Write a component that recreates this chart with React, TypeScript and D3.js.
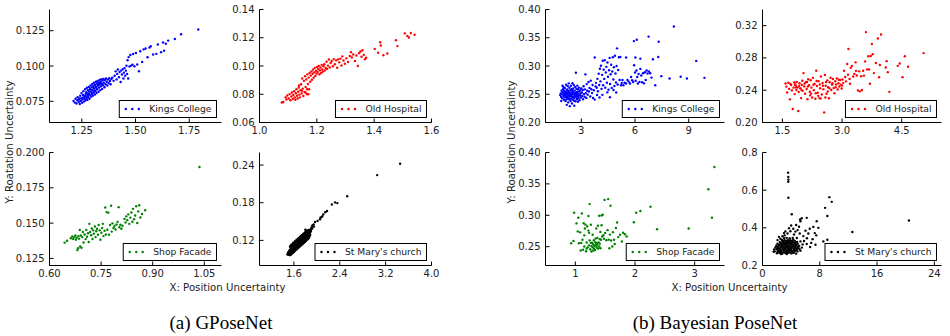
import React from 'react'
import * as d3 from 'd3'

type Pt = [number, number]

// ---- GPoseNet (a) ----
const gKings: Pt[] = [
  [1.212,0.0752],[1.218,0.0741],[1.221,0.0768],[1.226,0.0735],[1.229,0.0757],[1.231,0.0779],[1.236,0.0746],[1.238,0.0762],[1.241,0.0731],[1.243,0.0789],
  [1.246,0.0752],[1.248,0.0771],[1.249,0.0808],[1.252,0.0740],[1.254,0.0763],[1.256,0.0795],[1.258,0.0822],[1.261,0.0748],[1.262,0.0781],[1.264,0.0769],
  [1.266,0.0836],[1.268,0.0757],[1.269,0.0803],[1.271,0.0815],[1.273,0.0774],[1.274,0.0846],[1.276,0.0760],[1.278,0.0791],[1.279,0.0828],[1.281,0.0779],
  [1.283,0.0852],[1.284,0.0806],[1.286,0.0768],[1.288,0.0838],[1.289,0.0794],[1.291,0.0862],[1.292,0.0817],[1.294,0.0783],[1.296,0.0849],[1.297,0.0801],
  [1.299,0.0873],[1.301,0.0828],[1.302,0.0790],[1.304,0.0859],[1.306,0.0812],[1.307,0.0881],[1.309,0.0841],[1.311,0.0798],[1.312,0.0867],[1.314,0.0823],
  [1.316,0.0889],[1.317,0.0852],[1.319,0.0809],[1.321,0.0876],[1.322,0.0835],[1.324,0.0895],[1.326,0.0861],[1.328,0.0818],[1.329,0.0883],[1.331,0.0847],
  [1.333,0.0902],[1.334,0.0869],[1.336,0.0829],[1.338,0.0890],[1.339,0.0856],[1.341,0.0907],[1.343,0.0876],[1.345,0.0838],[1.347,0.0897],[1.349,0.0864],
  [1.351,0.0909],[1.353,0.0882],[1.356,0.0850],[1.358,0.0901],[1.361,0.0871],[1.363,0.0911],[1.366,0.0889],[1.369,0.0862],[1.372,0.0905],[1.375,0.0880],
  [1.378,0.0913],[1.381,0.0894],[1.384,0.0871],[1.388,0.0908],[1.392,0.0918],[1.398,0.0895],[1.403,0.0931],[1.408,0.0962],[1.412,0.0905],[1.415,0.0944],
  [1.418,0.0975],[1.423,0.0921],[1.426,0.0958],[1.431,0.0887],[1.434,0.0969],[1.437,0.0940],[1.441,0.0978],[1.444,0.0912],[1.446,0.0953],[1.449,0.0985],
  [1.452,0.0931],[1.455,0.0967],[1.458,0.1002],[1.461,0.0944],[1.463,0.1041],[1.466,0.0911],[1.468,0.1063],[1.472,0.0996],[1.476,0.1078],[1.480,0.1003],
  [1.486,0.1010],[1.489,0.1085],[1.495,0.0998],[1.502,0.1092],[1.508,0.1011],[1.516,0.0963],[1.522,0.1104],[1.531,0.1029],[1.538,0.1118],[1.547,0.1124],
  [1.556,0.1062],[1.565,0.1131],[1.571,0.1140],[1.582,0.1081],[1.597,0.1086],[1.604,0.1152],[1.619,0.1098],[1.628,0.1166],[1.633,0.1108],[1.641,0.1157],
  [1.652,0.1180],[1.683,0.1191],[1.712,0.1225],[1.792,0.1258],[1.255,0.0775],[1.265,0.0790],[1.275,0.0805],[1.285,0.0820],[1.295,0.0830],[1.305,0.0845],
  [1.315,0.0855],[1.325,0.0870],[1.335,0.0880],[1.345,0.0870],[1.300,0.0810],[1.310,0.0825],[1.320,0.0840],[1.280,0.0800],[1.270,0.0785],[1.240,0.0770],
]

const gHospital: Pt[] = [
  [1.078,0.0742],[1.083,0.0745],[1.091,0.0778],[1.094,0.0763],[1.097,0.0791],[1.102,0.0770],[1.105,0.0801],[1.108,0.0758],[1.111,0.0784],[1.113,0.0812],
  [1.116,0.0766],[1.118,0.0795],[1.121,0.0822],[1.123,0.0778],[1.125,0.0761],[1.127,0.0807],[1.129,0.0836],[1.131,0.0789],[1.133,0.0770],[1.135,0.0818],
  [1.137,0.0848],[1.139,0.0797],[1.141,0.0778],[1.143,0.0829],[1.145,0.0871],[1.147,0.0806],[1.149,0.0912],[1.151,0.0840],[1.153,0.0788],[1.155,0.0895],
  [1.157,0.0817],[1.159,0.0928],[1.161,0.0852],[1.163,0.0905],[1.165,0.0802],[1.167,0.0941],[1.169,0.0873],[1.171,0.0918],[1.173,0.0835],[1.175,0.0950],
  [1.177,0.0889],[1.179,0.0932],[1.181,0.0962],[1.183,0.0903],[1.185,0.0945],[1.187,0.0976],[1.189,0.0918],[1.191,0.0955],[1.193,0.0987],[1.195,0.0930],
  [1.197,0.0966],[1.199,0.0946],[1.201,0.0993],[1.203,0.0958],[1.205,0.0979],[1.207,0.1001],[1.209,0.0942],[1.211,0.0969],[1.213,0.0990],[1.215,0.0951],
  [1.217,0.1008],[1.219,0.0975],[1.221,0.0960],[1.223,0.0998],[1.226,0.1012],[1.228,0.0968],[1.231,0.0986],[1.234,0.1030],[1.236,0.0979],[1.239,0.1003],
  [1.242,0.1046],[1.245,0.0990],[1.248,0.1021],[1.252,0.1035],[1.256,0.0998],[1.259,0.1049],[1.263,0.1012],[1.267,0.1040],[1.271,0.0988],[1.274,0.1047],
  [1.278,0.1026],[1.282,0.1052],[1.286,0.1004],[1.289,0.1068],[1.293,0.1039],[1.298,0.1016],[1.303,0.1054],[1.309,0.1028],[1.315,0.1071],[1.319,0.1098],
  [1.322,0.1061],[1.327,0.1082],[1.333,0.1035],[1.338,0.1074],[1.343,0.1000],[1.347,0.1091],[1.352,0.1103],[1.356,0.1065],[1.359,0.1112],[1.364,0.1079],
  [1.368,0.1048],[1.372,0.1059],[1.402,0.1121],[1.414,0.1094],[1.421,0.1168],[1.423,0.1145],[1.432,0.1076],[1.446,0.1089],[1.476,0.1182],[1.481,0.1141],
  [1.507,0.1231],[1.516,0.1213],[1.521,0.1202],[1.528,0.1234],[1.541,0.1221],[1.138,0.0862],[1.148,0.0825],[1.160,0.0812],[1.166,0.0835],[1.170,0.0800],
]

const gShop: Pt[] = [
  [0.644,0.1362],[0.651,0.1375],[0.662,0.1393],[0.666,0.1405],[0.669,0.1388],[0.672,0.1401],[0.675,0.1412],[0.677,0.1383],[0.679,0.1397],[0.681,0.1309],
  [0.683,0.1322],[0.684,0.1408],[0.686,0.1390],[0.688,0.1451],[0.689,0.1335],[0.691,0.1412],[0.693,0.1326],[0.695,0.1401],[0.697,0.1438],[0.699,0.1363],
  [0.702,0.1420],[0.705,0.1387],[0.707,0.1452],[0.709,0.1404],[0.712,0.1428],[0.714,0.1366],[0.716,0.1495],[0.718,0.1437],[0.721,0.1414],[0.723,0.1462],
  [0.725,0.1388],[0.727,0.1449],[0.729,0.1425],[0.732,0.1476],[0.734,0.1401],[0.736,0.1443],[0.738,0.1460],[0.741,0.1418],[0.743,0.1487],[0.746,0.1449],
  [0.748,0.1382],[0.751,0.1432],[0.753,0.1466],[0.755,0.1495],[0.757,0.1408],[0.760,0.1446],[0.762,0.1611],[0.764,0.1420],[0.766,0.1578],[0.768,0.1453],
  [0.771,0.1574],[0.773,0.1418],[0.776,0.1487],[0.779,0.1623],[0.781,0.1440],[0.783,0.1498],[0.786,0.1465],[0.789,0.1480],[0.792,0.1455],[0.795,0.1490],
  [0.798,0.1509],[0.801,0.1613],[0.803,0.1471],[0.806,0.1489],[0.809,0.1460],[0.812,0.1481],[0.818,0.1530],[0.821,0.1505],[0.823,0.1548],[0.826,0.1521],
  [0.829,0.1562],[0.832,0.1495],[0.835,0.1539],[0.838,0.1575],[0.841,0.1510],[0.843,0.1601],[0.846,0.1528],[0.849,0.1554],[0.852,0.1619],[0.855,0.1501],
  [0.858,0.1583],[0.861,0.1627],[0.864,0.1540],[0.869,0.1565],[0.878,0.1591],[1.036,0.1897],
]

const gMary: Pt[] = [
  [1.488,0.0975],[1.494,0.0982],[1.497,0.1001],[1.502,0.0978],[1.505,0.1012],[1.509,0.0990],[1.513,0.1025],[1.516,0.0972],[1.519,0.1003],[1.522,0.1039],
  [1.531,0.0965],[1.534,0.1008],[1.537,0.1052],[1.532,0.1098],[1.541,0.0981],[1.544,0.1022],[1.547,0.1069],[1.542,0.1115],
  [1.551,0.0976],[1.554,0.1017],[1.557,0.1060],[1.552,0.1104],[1.556,0.1131],[1.561,0.0991],[1.564,0.1035],[1.567,0.1078],[1.562,0.1121],
  [1.571,0.0996],[1.574,0.1040],[1.577,0.1089],[1.572,0.1136],[1.581,0.1005],[1.584,0.1049],[1.587,0.1093],[1.582,0.1141],[1.586,0.1160],
  [1.591,0.1013],[1.594,0.1057],[1.597,0.1102],[1.592,0.1149],[1.601,0.1020],[1.604,0.1066],[1.607,0.1111],[1.602,0.1158],
  [1.611,0.1030],[1.614,0.1074],[1.617,0.1118],[1.612,0.1165],[1.616,0.1184],[1.621,0.1039],[1.624,0.1082],[1.627,0.1128],[1.622,0.1174],
  [1.631,0.1046],[1.634,0.1090],[1.637,0.1136],[1.632,0.1183],[1.641,0.1055],[1.644,0.1101],[1.647,0.1145],[1.642,0.1190],[1.646,0.1209],
  [1.651,0.1062],[1.654,0.1107],[1.657,0.1153],[1.652,0.1200],[1.661,0.1071],[1.664,0.1116],[1.667,0.1162],[1.662,0.1207],
  [1.671,0.1080],[1.674,0.1124],[1.677,0.1170],[1.672,0.1216],[1.676,0.1235],[1.681,0.1088],[1.684,0.1133],[1.687,0.1178],[1.682,0.1224],
  [1.691,0.1096],[1.694,0.1141],[1.697,0.1187],[1.692,0.1232],[1.701,0.1104],[1.704,0.1149],[1.707,0.1195],[1.702,0.1241],[1.706,0.1259],
  [1.711,0.1112],[1.714,0.1158],[1.717,0.1203],[1.712,0.1249],[1.721,0.1121],[1.724,0.1166],[1.727,0.1211],[1.722,0.1257],
  [1.731,0.1129],[1.734,0.1174],[1.737,0.1220],[1.732,0.1266],[1.736,0.1283],[1.741,0.1138],[1.744,0.1183],[1.747,0.1228],[1.742,0.1274],
  [1.751,0.1146],[1.754,0.1191],[1.757,0.1237],[1.752,0.1282],[1.761,0.1154],[1.764,0.1199],[1.767,0.1245],[1.762,0.1290],[1.766,0.1306],
  [1.771,0.1163],[1.774,0.1208],[1.777,0.1253],[1.772,0.1299],[1.781,0.1171],[1.784,0.1216],[1.787,0.1262],[1.782,0.1307],
  [1.791,0.1179],[1.794,0.1224],[1.797,0.1270],[1.792,0.1315],[1.796,0.1331],[1.801,0.1188],[1.804,0.1233],[1.807,0.1278],[1.802,0.1323],
  [1.811,0.1196],[1.814,0.1241],[1.817,0.1286],[1.812,0.1331],[1.821,0.1205],[1.824,0.1250],[1.827,0.1295],[1.822,0.1339],[1.826,0.1353],
  [1.831,0.1213],[1.834,0.1258],[1.837,0.1303],[1.832,0.1347],[1.841,0.1222],[1.844,0.1266],[1.847,0.1311],[1.842,0.1354],
  [1.851,0.1231],[1.854,0.1275],[1.857,0.1319],[1.852,0.1361],[1.861,0.1240],[1.864,0.1283],[1.867,0.1327],[1.862,0.1368],
  [1.872,0.1262],[1.875,0.1305],[1.878,0.1348],[1.885,0.1291],[1.889,0.1333],[1.893,0.1378],[1.898,0.1352],[1.905,0.1389],[1.912,0.1410],
  [1.925,0.1440],[1.945,0.1455],[1.968,0.1492],[2.012,0.1510],[2.055,0.1535],[2.062,0.1562],[2.081,0.1571],[2.093,0.1583],[2.112,0.1612],[2.146,0.1648],
  [2.178,0.1669],[2.262,0.1772],[2.318,0.1805],[2.358,0.1794],[2.530,0.1902],[3.052,0.2240],[3.452,0.2420],[1.920,0.1390],[1.950,0.1420],[1.800,0.1370],
]

// ---- Bayesian PoseNet (b) ----
const bKings: Pt[] = [
  [1.82,0.2485],[1.85,0.2512],[1.87,0.2453],[1.9,0.2561],[1.92,0.2498],[1.94,0.2427],[1.96,0.2535],[1.98,0.2589],[2.0,0.2470],[2.02,0.2521],
  [2.03,0.2402],[2.05,0.2563],[2.07,0.2445],[2.08,0.2612],[2.1,0.2497],[2.12,0.2381],[2.13,0.2544],[2.15,0.2668],[2.16,0.2463],[2.18,0.2519],
  [2.19,0.2312],[2.21,0.2587],[2.22,0.2430],[2.24,0.2643],[2.25,0.2491],[2.27,0.2356],[2.28,0.2556],[2.3,0.2693],[2.31,0.2412],[2.33,0.2518],
  [2.34,0.2614],[2.36,0.2289],[2.37,0.2469],[2.39,0.2572],[2.4,0.2381],[2.42,0.2651],[2.43,0.2503],[2.45,0.2427],[2.46,0.2589],[2.48,0.2336],
  [2.49,0.2541],[2.51,0.2695],[2.52,0.2452],[2.54,0.2603],[2.55,0.2398],[2.57,0.2517],[2.58,0.2662],[2.6,0.2435],[2.61,0.2298],[2.63,0.2565],
  [2.64,0.2484],[2.66,0.2628],[2.67,0.2376],[2.69,0.2529],[2.7,0.2880],[2.72,0.2453],[2.73,0.2597],[2.75,0.2411],[2.76,0.2540],[2.78,0.2652],
  [2.79,0.2474],[2.81,0.2366],[2.82,0.2583],[2.84,0.2502],[2.85,0.2431],[2.87,0.2617],[2.88,0.2546],[2.9,0.2395],[2.92,0.2478],[2.94,0.2569],
  [2.96,0.2512],[2.98,0.2442],[3.0,0.2603],[3.03,0.2530],[3.05,0.2468],[3.08,0.2575],[3.1,0.2411],[3.13,0.2641],[3.15,0.2503],[3.18,0.2456],
  [3.2,0.2587],[3.23,0.2852],[3.25,0.2520],[3.28,0.2435],[3.3,0.2680],[3.33,0.2562],[3.36,0.2493],[3.4,0.2717],[3.43,0.2548],[3.46,0.2612],
  [3.5,0.2459],[3.53,0.2741],[3.56,0.2589],[3.6,0.2520],[3.63,0.2663],[3.66,0.2433],[3.7,0.2572],[3.75,0.2405],[3.8,0.2640],
  [2.06,0.2508],[2.14,0.2486],[2.2,0.2452],[2.26,0.2529],[2.32,0.2475],[2.38,0.2503],[2.44,0.2468],[2.5,0.2512],[2.56,0.2455],[2.62,0.2497],
  [2.68,0.2464],[2.74,0.2508],[2.04,0.2478],[2.11,0.2535],[2.17,0.2412],[2.23,0.2565],[2.29,0.2444],[2.35,0.2538],[2.41,0.2421],[2.47,0.2492],
  [2.53,0.2560],[2.59,0.2387],[2.65,0.2521],[2.71,0.2489],[2.77,0.2427],[2.83,0.2467],[1.88,0.2380],[1.95,0.2652],[2.0,0.2630],
  [3.75,0.3150],[3.82,0.2702],[3.86,0.2615],[3.9,0.2773],[3.93,0.2554],[3.97,0.2862],[4.0,0.2665],[4.04,0.2951],[4.07,0.2728],[4.1,0.3004],
  [4.13,0.2596],[4.16,0.2843],[4.2,0.3092],[4.22,0.2658],[4.25,0.2935],[4.28,0.2772],[4.31,0.3101],[4.34,0.2617],[4.37,0.2887],[4.4,0.2985],
  [4.43,0.2703],[4.46,0.3062],[4.49,0.2811],[4.52,0.2579],[4.55,0.2924],[4.58,0.3143],[4.61,0.2681],[4.64,0.2853],[4.67,0.3021],[4.7,0.2612],
  [4.73,0.2902],[4.76,0.3154],[4.79,0.2760],[4.82,0.2978],[4.85,0.2645],[4.88,0.3182],[4.91,0.2866],[4.94,0.2710],[4.97,0.3001],[5.0,0.3312],
  [5.03,0.2673],[5.06,0.2929],[5.1,0.3154],[5.14,0.2752],[5.18,0.3158],[5.22,0.2660],[5.26,0.2698],[5.3,0.2751],[3.88,0.2488],[4.02,0.2442],
  [4.18,0.2489],[4.45,0.2534],[4.6,0.2448],[4.8,0.2575],[4.95,0.2530],
  [5.35,0.2658],[5.42,0.2704],[5.5,0.2689],[5.58,0.2752],[5.65,0.2723],[5.72,0.2691],[5.78,0.2805],[5.84,0.2748],[5.9,0.2717],[5.95,0.3012],
  [6.0,0.2886],[6.04,0.2738],[6.08,0.2921],[6.12,0.2805],[6.16,0.2690],[6.2,0.2858],[6.25,0.2719],[6.3,0.2949],[6.35,0.2833],[6.4,0.2712],
  [6.45,0.2871],[6.5,0.2693],[6.55,0.2890],[6.6,0.2752],[6.65,0.2921],[6.7,0.2867],[6.78,0.2903],[6.85,0.2871],[6.92,0.2795],[5.94,0.3441],
  [6.1,0.3465],[6.76,0.3520],[7.32,0.3430],[8.17,0.3700],[7.0,0.3120],[7.3,0.3160],[7.13,0.2660],[7.47,0.2820],[7.93,0.2780],[8.55,0.2810],
  [8.9,0.2780],[9.42,0.3090],[9.88,0.2790],[6.02,0.3150],[6.3,0.3130],[5.5,0.3150],
]

const bHospital: Pt[] = [
  [1.58,0.2483],[1.6,0.2445],[1.62,0.2371],[1.65,0.2492],[1.67,0.2416],[1.69,0.2287],[1.72,0.2464],[1.74,0.2398],[1.76,0.2168],[1.78,0.2432],
  [1.8,0.2495],[1.81,0.2352],[1.83,0.2460],[1.85,0.2402],[1.86,0.2501],[1.88,0.2433],[1.9,0.2143],[1.91,0.2378],[1.93,0.2487],[1.95,0.2425],
  [1.97,0.2302],[1.99,0.2464],[2.01,0.2392],[2.03,0.2612],[2.05,0.2447],[2.07,0.2356],[2.09,0.2498],[2.11,0.2415],[2.13,0.2289],[2.15,0.2536],
  [2.17,0.2463],[2.19,0.2381],[2.21,0.2524],[2.23,0.2432],[2.25,0.2309],[2.27,0.2553],[2.29,0.2401],[2.31,0.2478],[2.33,0.2295],[2.35,0.2642],
  [2.37,0.2452],[2.39,0.2368],[2.41,0.2512],[2.43,0.2302],[2.45,0.2425],[2.47,0.2571],[2.49,0.2346],[2.51,0.2489],[2.53,0.2411],[2.55,0.2125],
  [2.57,0.2589],[2.59,0.2456],[2.61,0.2357],[2.63,0.2522],[2.65,0.2438],[2.67,0.2301],[2.69,0.2498],[2.71,0.2554],[2.73,0.2402],[2.75,0.2469],
  [2.77,0.2539],[2.79,0.2428],[2.81,0.2363],[2.83,0.2511],[2.85,0.2472],[2.87,0.2546],[2.89,0.2409],[2.91,0.2487],[2.93,0.2446],[2.95,0.2526],
  [2.97,0.2469],[2.99,0.2421],[3.01,0.2532],[3.03,0.2488],[3.05,0.2642],[3.08,0.2563],[3.1,0.2510],[3.13,0.2724],[3.15,0.2593],[3.16,0.2910],
  [3.19,0.2539],[3.22,0.2678],[3.25,0.2702],[3.28,0.2569],[3.31,0.2602],[3.34,0.2745],[3.37,0.2583],[3.4,0.2398],[3.43,0.2634],[3.45,0.2386],
  [3.48,0.2573],[3.5,0.2402],[3.53,0.2642],[3.55,0.2581],[3.58,0.2757],[3.6,0.3120],[3.63,0.2658],[3.66,0.2821],[3.68,0.2657],[3.7,0.2480],
  [3.72,0.2823],[3.75,0.2972],[3.77,0.2845],[3.8,0.2612],[3.85,0.2738],[3.9,0.3040],[3.93,0.2560],[3.95,0.2713],[3.98,0.3090],[4.1,0.2682],
  [4.12,0.2760],[4.15,0.2624],[4.19,0.2380],[4.4,0.2702],[4.45,0.2731],[4.52,0.2562],[4.58,0.2820],[4.66,0.2690],[5.05,0.2860],[3.35,0.2640],
  [3.2,0.2481],[1.7,0.2478],[1.84,0.2437],[1.98,0.2402],[2.06,0.2484],[2.14,0.2447],[2.2,0.2336],[2.28,0.2468],[2.36,0.2514],[2.44,0.2472],
  [2.52,0.2455],[2.6,0.2502],[2.68,0.2424],[2.76,0.2487],[2.84,0.2436],[2.92,0.2529],[3.0,0.2457],[2.4,0.2330],[2.46,0.2296],[2.34,0.2362],
  [2.58,0.2309],[2.64,0.2385],[2.22,0.2358],[2.12,0.2501],[2.0,0.2518],[1.92,0.2454],[1.82,0.2470],
]

const bShop: Pt[] = [
  [0.93,0.2555],[0.97,0.2592],[0.98,0.3041],[1.02,0.2871],[1.04,0.2743],[1.06,0.2555],[1.08,0.2728],[1.09,0.2440],[1.11,0.3030],[1.12,0.2611],
  [1.13,0.2452],[1.14,0.2872],[1.15,0.2503],[1.16,0.2790],[1.17,0.2851],[1.18,0.2428],[1.19,0.2567],[1.2,0.2823],[1.21,0.2489],[1.22,0.2988],
  [1.22,0.2756],[1.23,0.2521],[1.24,0.3178],[1.24,0.2601],[1.25,0.2458],[1.26,0.2848],[1.27,0.2512],[1.27,0.2423],[1.28,0.2562],[1.29,0.2492],
  [1.29,0.2689],[1.3,0.2538],[1.31,0.2472],[1.31,0.2604],[1.32,0.2515],[1.33,0.2573],[1.33,0.2447],[1.34,0.2511],[1.35,0.2789],[1.35,0.2542],
  [1.36,0.2486],[1.37,0.2531],[1.37,0.2640],[1.38,0.2469],[1.38,0.2834],[1.39,0.2568],[1.4,0.2503],[1.4,0.2992],[1.41,0.2548],[1.42,0.2735],
  [1.42,0.2475],[1.43,0.2611],[1.44,0.2842],[1.44,0.2996],[1.45,0.2663],[1.46,0.3010],[1.47,0.2682],[1.48,0.2627],[1.49,0.3245],[1.5,0.2719],
  [1.52,0.2604],[1.54,0.2763],[1.55,0.3258],[1.56,0.2612],[1.57,0.2474],[1.58,0.2692],[1.59,0.3152],[1.6,0.2598],[1.62,0.2502],[1.63,0.2731],
  [1.65,0.2610],[1.66,0.2542],[1.68,0.2798],[1.7,0.2886],[1.72,0.2652],[1.75,0.2689],[1.78,0.2583],[1.8,0.2721],[1.83,0.2698],[1.86,0.2663],
  [1.98,0.2888],[2.02,0.3041],[2.09,0.3069],[2.26,0.3135],[2.37,0.2778],[2.9,0.2789],[3.23,0.3414],[3.29,0.2960],[3.33,0.3769],[1.05,0.2960],
  [1.15,0.2680],[1.23,0.2720],[1.1,0.2560],[1.3,0.2440],[1.36,0.2560],[1.41,0.2620],[1.34,0.2630],[1.26,0.2560],[1.19,0.2470],
]

const bMary: Pt[] = [
  [2.02,0.2648],[2.43,0.2661],[2.79,0.2637],[3.22,0.2655],[3.58,0.2668],[4.03,0.2642],[4.38,0.2672],
  [1.71,0.2752],[2.12,0.2738],[2.48,0.2761],[2.93,0.2745],[3.31,0.2733],[3.68,0.2758],[4.12,0.2741],[4.51,0.2766],[4.88,0.2749],
  [1.62,0.2848],[1.98,0.2861],[2.41,0.2839],[2.83,0.2856],[3.19,0.2842],[3.63,0.2865],[3.97,0.2838],[4.42,0.2853],[4.79,0.2846],[5.18,0.2862],
  [1.81,0.2953],[2.19,0.2941],[2.62,0.2958],[3.02,0.2944],[3.41,0.2962],[3.82,0.2939],[4.18,0.2957],[4.63,0.2948],[5.03,0.2936],
  [1.92,0.3048],[2.31,0.3061],[2.68,0.3042],[3.12,0.3057],[3.48,0.3039],[3.91,0.3063],[4.29,0.3046],[4.72,0.3058],[5.12,0.3044],
  [2.08,0.3152],[2.52,0.3139],[2.88,0.3158],[3.29,0.3143],[3.72,0.3161],[4.08,0.3148],[4.52,0.3137],[4.93,0.3155],
  [2.42,0.3248],[2.81,0.3259],[3.23,0.3243],[3.61,0.3262],[4.02,0.3251],[4.43,0.3239],[4.82,0.3257],
  [2.72,0.3352],[3.09,0.3338],[3.52,0.3356],[3.88,0.3342],[4.31,0.3361],[3.02,0.3452],[3.38,0.3468],[3.79,0.3447],[4.22,0.3459],
  [2.21,0.2702],[2.62,0.2695],[3.02,0.2711],[3.42,0.2698],[3.83,0.2706],[4.25,0.2693],[2.22,0.2803],[2.61,0.2795],[3.01,0.2812],[3.41,0.2799],
  [3.81,0.2808],[4.22,0.2791],[4.61,0.2805],[2.01,0.2902],[2.41,0.2895],[2.81,0.2908],[3.21,0.2899],[3.61,0.2911],[4.01,0.2893],[4.41,0.2906],
  [4.81,0.2898],[2.11,0.3002],[2.51,0.2995],[2.91,0.3008],[3.31,0.2996],[3.71,0.3009],[4.11,0.2992],[4.51,0.3005],[4.91,0.2998],[2.31,0.3101],
  [2.71,0.3095],[3.11,0.3108],[3.51,0.3098],[3.91,0.3105],[4.31,0.3093],[4.71,0.3102],[2.61,0.3201],[3.01,0.3195],[3.41,0.3208],[3.81,0.3198],
  [4.21,0.3205],[4.61,0.3199],[2.91,0.3301],[3.31,0.3295],[3.71,0.3308],[4.11,0.3298],[4.51,0.3301],
  [1.55,0.2732],[2.6,0.2605],[3.4,0.2612],[4.7,0.2628],[5.3,0.2780],[5.5,0.2950],[5.6,0.3120],[5.3,0.3280],[2.1,0.3350],[2.5,0.3420],
  [3.1,0.3600],[3.5,0.3700],[3.9,0.3820],[3.2,0.3810],[4.4,0.3650],[4.6,0.3800],[4.3,0.3950],[3.7,0.3980],[4.0,0.4120],[4.9,0.3880],
  [5.2,0.3700],[5.1,0.4060],[4.7,0.4150],[5.3,0.4350],[5.48,0.4510],[4.09,0.4720],[5.25,0.4440],[5.7,0.3560],[6.18,0.4530],[6.0,0.3850],
  [6.4,0.3700],[6.2,0.3450],[6.6,0.3950],[7.1,0.4050],[7.3,0.3720],[7.5,0.3600],[7.57,0.4350],[7.8,0.4000],[7.0,0.3400],[6.8,0.3200],
  [6.18,0.3140],[6.65,0.2980],[7.4,0.3100],[8.5,0.3280],[9.06,0.3370],[8.74,0.5060],[9.34,0.5630],[9.67,0.5380],[9.06,0.4630],[3.58,0.6930],
  [3.6,0.6700],[3.62,0.6560],[3.6,0.6450],[3.62,0.5600],[12.55,0.3780],[20.45,0.4390],[2.8,0.3550],[3.0,0.3720],[4.8,0.3460],[5.8,0.3300],
  [2.3,0.3520],
]

// tick values per panel
const gKingsX = [1.25, 1.5, 1.75]
const gKingsY = [0.075, 0.1, 0.125]
const gHospX = [1.0, 1.2, 1.4, 1.6]
const gHospY = [0.06, 0.08, 0.1, 0.12, 0.14]
const gShopX = [0.6, 0.75, 0.9, 1.05]
const gShopY = [0.125, 0.15, 0.175, 0.2]
const gMaryX = [1.6, 2.4, 3.2, 4.0]
const gMaryY = [0.12, 0.18, 0.24]
const bKingsX = [3, 6, 9]
const bKingsY = [0.2, 0.25, 0.3, 0.35, 0.4]
const bHospX = [1.5, 3.0, 4.5]
const bHospY = [0.2, 0.24, 0.28, 0.32]
const bShopX = [1, 2, 3]
const bShopY = [0.25, 0.3, 0.35, 0.4]
const bMaryX = [0, 8, 16, 24]
const bMaryY = [0.2, 0.4, 0.6, 0.8]

const captions = ['(a) GPoseNet', '(b) Bayesian PoseNet']
const xLabel = 'X: Position Uncertainty'
const yLabel = 'Y: Roatation Uncertainty'

const FONT = 'DejaVu Sans, sans-serif'
const TXT = '#222'

// layout
const LX = [49.5, 259.5], LW = 172
const RX = [545.5, 762.5], RW = 179
const RY = [9.5, 152.5], PH = 113

const panels = [
  { label: 'Kings College', data: gKings, color: '#0000ff', xd: [1.1, 1.9], yd: [0.06, 0.14], xt: gKingsX, yt: gKingsY, xf: '.2f', yf: '.3f', left: LX[0], top: RY[0], w: LW },
  { label: 'Old Hospital', data: gHospital, color: '#ff0000', xd: [1.0, 1.6], yd: [0.06, 0.14], xt: gHospX, yt: gHospY, xf: '.1f', yf: '.2f', left: LX[1], top: RY[0], w: LW },
  { label: 'Shop Facade', data: gShop, color: '#008000', xd: [0.6, 1.1], yd: [0.12, 0.2], xt: gShopX, yt: gShopY, xf: '.2f', yf: '.3f', left: LX[0], top: RY[1], w: LW },
  { label: "St Mary's church", data: gMary, color: '#000000', xd: [1.0, 4.0], yd: [0.08, 0.26], xt: gMaryX, yt: gMaryY, xf: '.1f', yf: '.2f', left: LX[1], top: RY[1], w: LW },
  { label: 'Kings College', data: bKings, color: '#0000ff', xd: [1, 11], yd: [0.2, 0.4], xt: bKingsX, yt: bKingsY, xf: 'd', yf: '.2f', left: RX[0], top: RY[0], w: RW },
  { label: 'Old Hospital', data: bHospital, color: '#ff0000', xd: [1, 5.5], yd: [0.2, 0.34], xt: bHospX, yt: bHospY, xf: '.1f', yf: '.2f', left: RX[1], top: RY[0], w: RW },
  { label: 'Shop Facade', data: bShop, color: '#008000', xd: [0.5, 3.5], yd: [0.22, 0.4], xt: bShopX, yt: bShopY, xf: 'd', yf: '.2f', left: RX[0], top: RY[1], w: RW },
  { label: "St Mary's church", data: bMary, color: '#000000', xd: [0, 25], yd: [0.2, 0.8], xt: bMaryX, yt: bMaryY, xf: 'd', yf: '.1f', left: RX[1], top: RY[1], w: RW },
]

let ctx: CanvasRenderingContext2D | null = null
function textWidth(s: string, font: string) {
  if (!ctx) ctx = document.createElement('canvas').getContext('2d')
  if (!ctx) return s.length * 5.5
  ctx.font = font
  return ctx.measureText(s).width
}

function Panel({ p }: { p: any }) {
  const x = d3.scaleLinear().domain(p.xd).range([p.left, p.left + p.w])
  const y = d3.scaleLinear().domain(p.yd).range([p.top + PH, p.top])
  const fx = d3.format(p.xf)
  const fy = d3.format(p.yf)
  const bottom = p.top + PH
  const right = p.left + p.w

  // legend box, lower right inside the axes
  const legFont = 9.2
  const tw = textWidth(p.label, `${legFont}px DejaVu Sans`)
  const bw = 30 + tw + 5
  const bh = 17
  const bx = right - 5 - bw
  const by = bottom - 5 - bh

  return (
    <g>
      {p.data.map((d: Pt, i: number) => (
        <circle key={i} cx={x(d[0])} cy={y(d[1])} r={1.2} fill={p.color} />
      ))}
      <line x1={p.left} x2={p.left} y1={p.top} y2={bottom} stroke="#000" />
      <line x1={p.left} x2={right} y1={bottom} y2={bottom} stroke="#000" />
      {p.yt.map((t: number) => (
        <g key={'y' + t}>
          <line x1={p.left} x2={p.left + 4} y1={y(t)} y2={y(t)} stroke="#000" />
          <text x={p.left - 5} y={y(t)} dy="0.35em" textAnchor="end" fontSize={10} fill={TXT}>{fy(t)}</text>
        </g>
      ))}
      {p.xt.map((t: number) => (
        <g key={'x' + t}>
          <line x1={x(t)} x2={x(t)} y1={bottom} y2={bottom - 4} stroke="#000" />
          <text x={x(t)} y={bottom + 11.5} textAnchor="middle" fontSize={10} fill={TXT}>{fx(t)}</text>
        </g>
      ))}
      <rect x={bx} y={by} width={bw} height={bh} fill="#fff" stroke="#000" />
      {[6.5, 13, 19.5].map((o) => (
        <circle key={o} cx={bx + o} cy={by + bh / 2} r={1.2} fill={p.color} />
      ))}
      <text x={bx + 30} y={by + bh / 2} dy="0.35em" fontSize={legFont} fill={TXT}>{p.label}</text>
    </g>
  )
}

export default function App() {
  const groups = [
    { cx: (LX[0] + LX[1] + LW) / 2 - 13, yx: 9.5, cap: 221 },
    { cx: (RX[0] + RX[1] + RW) / 2 - 14, yx: 511.5, cap: 715 },
  ]
  return (
    <svg width={950} height={336} style={{ position: 'absolute', left: 0, top: 0, background: '#fff' }} fontFamily={FONT}>
      <rect width={950} height={336} fill="#fff" />
      {panels.map((p, i) => <Panel key={i} p={p} />)}
      {groups.map((g, i) => (
        <g key={i}>
          <text x={g.cx} y={290.5} textAnchor="middle" fontSize={10.2} fill={TXT}>{xLabel}</text>
          <text transform={`translate(${g.yx},142) rotate(-90)`} textAnchor="middle" dy="0.35em" fontSize={10.2} fill={TXT}>{yLabel}</text>
          <text x={g.cap} y={328.5} textAnchor="middle" fontSize={19} fontFamily="Liberation Serif, serif" fill="#000">{captions[i]}</text>
        </g>
      ))}
    </svg>
  )
}
